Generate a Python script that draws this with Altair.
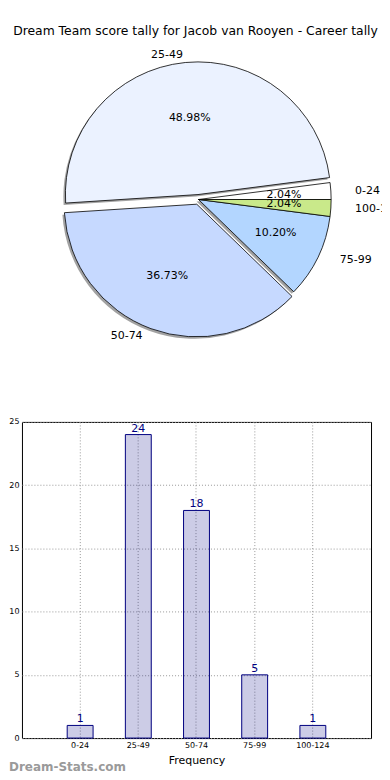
import math
import pandas as pd
import altair as alt

title_text = "Dream Team score tally for Jacob van Rooyen - Career tally"
categories = ["0-24", "25-49", "50-74", "75-99", "100-124"]
counts = [1, 24, 18, 5, 1]
pie_colors = ["#FFFFFF", "#EBF2FF", "#C6D9FF", "#B3D6FF", "#C9E98A"]
explode = [0, 1, 1, 0, 0]

# layout constants (pixels, relative to pie panel origin)
CX, CY, R, E = 177, 191, 133, 5
RX, RY = 143, 128  # label placement radii (reference pie is slightly elliptical)

total = sum(counts)
rows = []
cum = 0
for cat, c, ex in zip(categories, counts, explode):
    start = cum / total
    cum += c
    end = cum / total
    mid = 2 * math.pi * (start + end) / 2
    cx = CX + ex * E * math.cos(mid)
    cy = CY - ex * E * math.sin(mid)
    lx = cx + 1.1 * RX * math.cos(mid)
    ly = cy - 1.1 * RY * math.sin(mid)
    px = cx + 0.6 * RX * math.cos(mid)
    py = cy - 0.6 * RY * math.sin(mid)
    rows.append(dict(cat=cat, count=c, start=start, end=end, cx=cx, cy=cy,
                     sx=cx - 2, sy=cy + 2, lx=lx, ly=ly, px=px, py=py,
                     side="right" if lx > CX else "left",
                     pct=f"{100 * c / total:.2f}%"))
pie_df = pd.DataFrame(rows)

theta_scale = alt.Scale(domain=[0, 1], range=[2.5 * math.pi, 0.5 * math.pi])
pie_base = alt.Chart(pie_df)

shadow = pie_base.mark_arc(radius=R, fill="#555555", opacity=0.55).encode(
    theta=alt.Theta("start:Q", stack=None, scale=theta_scale),
    theta2="end:Q",
    x=alt.X("sx:Q", scale=None, axis=None),
    y=alt.Y("sy:Q", scale=None, axis=None),
)
slices = pie_base.mark_arc(radius=R, stroke="black", strokeWidth=0.8).encode(
    theta=alt.Theta("start:Q", stack=None, scale=theta_scale),
    theta2="end:Q",
    x=alt.X("cx:Q", scale=None, axis=None),
    y=alt.Y("cy:Q", scale=None, axis=None),
    color=alt.Color("cat:N", scale=alt.Scale(domain=categories, range=pie_colors), legend=None),
)
pct = pie_base.mark_text(fontSize=11, color="black", align="center", baseline="middle").encode(
    x=alt.X("px:Q", scale=None, axis=None),
    y=alt.Y("py:Q", scale=None, axis=None),
    text="pct:N",
)
lab_right = pie_base.transform_filter(alt.datum.side == "right").mark_text(
    fontSize=11, color="black", align="left", baseline="middle", clip=True).encode(
    x=alt.X("lx:Q", scale=None, axis=None),
    y=alt.Y("ly:Q", scale=None, axis=None),
    text="cat:N",
)
lab_left = pie_base.transform_filter(alt.datum.side == "left").mark_text(
    fontSize=11, color="black", align="right", baseline="middle", clip=True).encode(
    x=alt.X("lx:Q", scale=None, axis=None),
    y=alt.Y("ly:Q", scale=None, axis=None),
    text="cat:N",
)
title = alt.Chart(pd.DataFrame({"t": [title_text]})).mark_text(
    fontSize=12.4, color="black", align="center", baseline="middle").encode(
    text="t:N", x=alt.value(174), y=alt.value(22))

pie = alt.layer(shadow, slices, pct, lab_right, lab_left, title).properties(width=361, height=401)

bar_df = pd.DataFrame({"cat": categories, "count": counts})
bar_base = alt.Chart(bar_df)
xenc = alt.X("cat:N", sort=categories,
             scale=alt.Scale(paddingInner=0.555, paddingOuter=0.7775),
             axis=alt.Axis(title="Frequency", labelAngle=0, grid=True, gridDash=[1, 2],
                           gridColor="#999999", ticks=False, domain=False, labelFontSize=8,
                           titleFontSize=11, titleFontWeight="normal", bandPosition=0.5,
                           labelPadding=3, titlePadding=5, labelColor="black", titleColor="black"))
yenc = alt.Y("count:Q", scale=alt.Scale(domain=[0, 25], nice=False),
             axis=alt.Axis(values=[0, 5, 10, 15, 20, 25], title=None, grid=True, gridDash=[1, 2],
                           gridColor="#999999", ticks=False, domain=False, labelFontSize=8,
                           labelPadding=3, labelColor="black", minExtent=0))
bars = bar_base.mark_bar(fill="#000080", fillOpacity=0.2, stroke="#000080", strokeWidth=1).encode(
    x=xenc, y=yenc)
vals = bar_base.mark_text(dy=-1, baseline="bottom", color="#000080", fontSize=11).encode(
    x=xenc, y=yenc, text="count:Q")
watermark = alt.Chart(pd.DataFrame({"w": ["Dream-Stats.com"]})).mark_text(
    align="left", baseline="middle", fontSize=12, fontWeight="bold", color="#9a9a9a").encode(
    text="w:N", x=alt.value(-13), y=alt.value(346))

bar = alt.layer(bars, vals, watermark).properties(
    width=350, height=317, view=alt.ViewBackground(stroke="black", strokeWidth=1))

chart = alt.vconcat(pie, bar, spacing=8).properties(padding=0).configure(
    font="DejaVu Sans"
).configure_view(strokeWidth=0)

chart.save("out.html", embed_options={"renderer": "svg", "actions": False})
